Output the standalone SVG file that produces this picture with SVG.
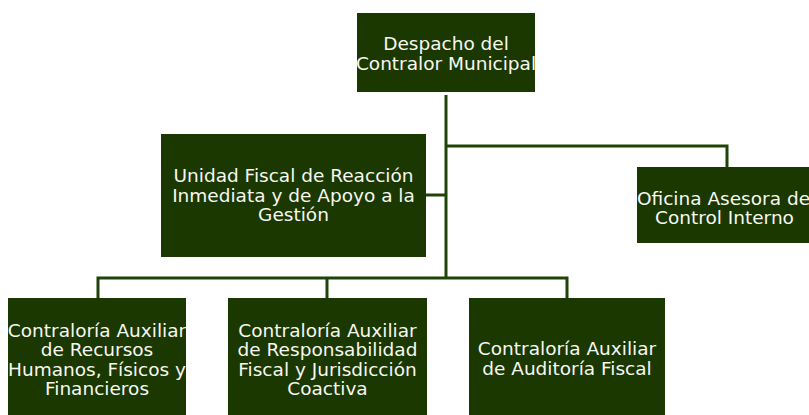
<svg xmlns="http://www.w3.org/2000/svg" width="809" height="415" viewBox="0 0 809 415">
<style>
.box{fill:#1a3800;}
.lbl{font-family:"DejaVu Sans",Verdana,sans-serif;font-size:18.5px;fill:#f7f7f2;text-anchor:middle;}
.conn{fill:none;stroke:#1e4407;stroke-width:3;}
</style>
<rect width="809" height="415" fill="#ffffff"/>
<g id="connectors">
<path class="conn" d="M446 95 V278"/>
<path class="conn" d="M446 146 H727 V167"/>
<path class="conn" d="M426 195 H446"/>
<path class="conn" d="M98 298 V278 H567 V298"/>
<path class="conn" d="M327 278 V298"/>
</g>
<g id="despacho">
<rect class="box" x="357" y="13" width="178" height="79"/>
<text class="lbl" x="446" y="49.5">Despacho del</text>
<text class="lbl" x="446" y="69.5">Contralor Municipal</text>
</g>
<g id="unidad">
<rect class="box" x="161" y="134" width="265" height="123"/>
<text class="lbl" x="293.5" y="182.3">Unidad Fiscal de Reacción</text>
<text class="lbl" x="293.5" y="201.7">Inmediata y de Apoyo a la</text>
<text class="lbl" x="293.5" y="221">Gestión</text>
</g>
<g id="oficina">
<rect class="box" x="637" y="167" width="178" height="76"/>
<text class="lbl" x="723.5" y="205">Oficina Asesora de</text>
<text class="lbl" x="724.5" y="224">Control Interno</text>
</g>
<g id="recursos">
<rect class="box" x="8" y="298" width="178" height="122"/>
<text class="lbl" x="97" y="336.5">Contraloría Auxiliar</text>
<text class="lbl" x="97" y="356">de Recursos</text>
<text class="lbl" x="97" y="375.5">Humanos, Físicos y</text>
<text class="lbl" x="97" y="395">Financieros</text>
</g>
<g id="responsabilidad">
<rect class="box" x="228" y="298" width="199" height="122"/>
<text class="lbl" x="327.5" y="336.5">Contraloría Auxiliar</text>
<text class="lbl" x="327.5" y="356">de Responsabilidad</text>
<text class="lbl" x="327.5" y="375.5">Fiscal y Jurisdicción</text>
<text class="lbl" x="327.5" y="395">Coactiva</text>
</g>
<g id="auditoria">
<rect class="box" x="469" y="298" width="196" height="122"/>
<text class="lbl" x="567" y="355">Contraloría Auxiliar</text>
<text class="lbl" x="567" y="375">de Auditoría Fiscal</text>
</g>
</svg>
